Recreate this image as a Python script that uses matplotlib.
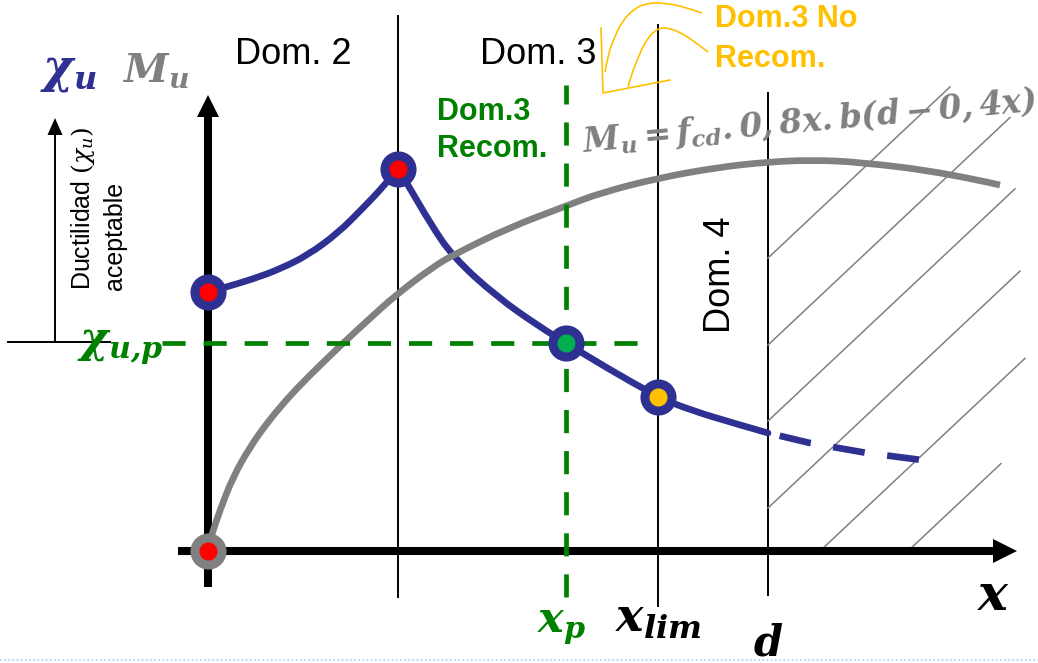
import matplotlib
matplotlib.use('Agg')
import matplotlib.pyplot as plt
from matplotlib.path import Path
from matplotlib.patches import PathPatch

plt.rcParams['font.family'] = ['Liberation Sans', 'DejaVu Sans']
plt.rcParams['mathtext.fontset'] = 'dejavuserif'

# ---------------- data (diagram units, origin at axes crossing) ----------------
# Mu curve (grey)
mu_x = [0, 2, 12, 25, 42, 59, 79, 99, 132, 159, 189, 225, 245, 300, 358, 392, 450, 512, 560, 602, 652, 739, 792]
mu_y = [0, 11, 41, 74, 104, 128, 152, 173, 205, 230, 257, 284, 296, 323, 345, 358, 373, 384, 389, 391, 389, 378, 366]
# chi_u curve (blue), rising part (domain 2)
chi_up_x = [0, 15, 45, 72, 100, 130, 155, 175, 190]
chi_up_y = [259, 263, 272, 282, 296, 318, 343, 364, 382]
# chi_u curve, falling part (domain 3)
chi_dn_x = [190, 199, 222, 245, 289, 332, 358, 399, 450, 482, 532, 560]
chi_dn_y = [382, 368, 328, 294, 254, 224, 208, 183, 154, 141, 126, 118]
# chi_u curve, dashed part (domain 4)
chi_dash_x = [560, 602, 659, 714]
chi_dash_y = [118, 108, 98, 91]

# key abscissas
x_dom2 = 190      # limit dominio 2 / 3
x_p = 358         # x_p
x_lim = 450       # x_lim
d_val = 560       # d
chi_up = 208      # chi_u,p

# highlighted points
red_pts_x = [0, 190]
red_pts_y = [259, 382]
green_pt = (358, 208)
orange_pt = (450, 154)
origin_pt = (0, 0)

# hatch lines of domain 4 (start point, end x)
hatch_start = [(560, 293), (560, 206), (560, 130), (560, 43), (612, 0), (700, 0)]
hatch_end_x = [742, 802, 807, 812, 817, 793]
hatch_slope = 0.94

# orange bracket for "Dom.3 No Recom."
br_line_x = [393, 395, 462]
br_line_y = [523, 458, 471]
br_outer_x = [494, 477, 457, 440, 427, 415, 406, 400, 397]
br_outer_y = [538, 544, 548, 548, 543, 531, 513, 496, 479]
br_inner_x = [500, 487, 472, 457, 447, 437, 430, 424, 420]
br_inner_y = [499, 509, 519, 524, 521, 509, 493, 478, 464]

# ---------------- colours ----------------
BLUE = '#2E3192'
GREY = '#808080'
GREEN = '#008000'
GREEN_FILL = '#00B050'
ORANGE = '#FFC000'
RED = '#FF0000'


def smooth_path(xs, ys):
    """Quadratic B-spline style path using the read points as control points."""
    verts = [(xs[0], ys[0])]
    codes = [Path.MOVETO]
    n = len(xs)
    for i in range(1, n - 1):
        if i < n - 2:
            end = ((xs[i] + xs[i + 1]) / 2, (ys[i] + ys[i + 1]) / 2)
        else:
            end = (xs[n - 1], ys[n - 1])
        verts += [(xs[i], ys[i]), end]
        codes += [Path.CURVE3, Path.CURVE3]
    return Path(verts, codes)


def add_curve(ax, xs, ys, **kw):
    patch = PathPatch(smooth_path(xs, ys), fill=False, **kw)
    ax.add_patch(patch)


fig = plt.figure(figsize=(10.38, 6.63), dpi=100)
ax = fig.add_axes([0, 0, 1, 1])
ax.set_xlim(-208, 830)
ax.set_ylim(-112, 551)
ax.axis('off')

# thin vertical domain lines
ax.plot([x_dom2, x_dom2], [-46, 535], color='black', lw=1.4, zorder=1)
ax.plot([x_lim, x_lim], [-55, 526], color='black', lw=1.4, zorder=1)
ax.plot([d_val, d_val], [-44, 458], color='black', lw=1.4, zorder=1)

# hatch lines
for (sx, sy), ex in zip(hatch_start, hatch_end_x):
    ax.plot([sx, ex], [sy, sy + hatch_slope * (ex - sx)], color=GREY, lw=1.1, zorder=1)

# main axes with arrow heads
ax.plot([-30, 785], [0, 0], color='black', lw=5.8, solid_capstyle='butt', zorder=2)
ax.fill([785, 809, 785], [-12, 0, 12], color='black', lw=0, zorder=2)
ax.plot([0, 0], [-36, 434], color='black', lw=5.8, solid_capstyle='butt', zorder=2)
ax.fill([-11, 0, 11], [434, 456, 434], color='black', lw=0, zorder=2)

# small "ductilidad" arrow at the left
ax.plot([-200, -98], [chi_up + 1, chi_up + 1], color='black', lw=1.4, zorder=2)
ax.plot([-153, -153], [chi_up + 1, 416], color='black', lw=1.4, zorder=2)
ax.fill([-160.5, -153, -145.5], [416, 433, 416], color='black', lw=0, zorder=2)

# chi_u curve
add_curve(ax, chi_up_x, chi_up_y, edgecolor=BLUE, lw=4.8, joinstyle='round', capstyle='round', zorder=4)
add_curve(ax, chi_dn_x, chi_dn_y, edgecolor=BLUE, lw=4.8, joinstyle='round', capstyle='round', zorder=4)
ax.plot(chi_dash_x, chi_dash_y, color=BLUE, lw=4.8, linestyle=(6.4, (4.8, 3.4)),
        dash_capstyle='butt', zorder=4)

# Mu curve
add_curve(ax, mu_x, mu_y, edgecolor=GREY, lw=4.8, joinstyle='round', capstyle='butt', zorder=5)

# green dashed guides
ax.plot([x_p, x_p], [-46, 466], color=GREEN, lw=3.4, linestyle=(0, (4.9, 3.8)),
        dash_capstyle='butt', zorder=6)
ax.plot([-46, 440], [chi_up, chi_up], color=GREEN, lw=3.4, linestyle=(0, (4.9, 3.8)),
        dash_capstyle='butt', zorder=6)

# markers
mk = dict(markersize=19.5, markeredgewidth=6.5, linestyle='none', zorder=7)
ax.plot(red_pts_x, red_pts_y, 'o', markerfacecolor=RED, markeredgecolor=BLUE, **mk)
ax.plot([green_pt[0]], [green_pt[1]], 'o', markerfacecolor=GREEN_FILL, markeredgecolor=BLUE, **mk)
ax.plot([orange_pt[0]], [orange_pt[1]], 'o', markerfacecolor=ORANGE, markeredgecolor=BLUE, **mk)
ax.plot([origin_pt[0]], [origin_pt[1]], 'o', markerfacecolor=RED, markeredgecolor=GREY, **mk)

# orange bracket
ax.plot(br_line_x, br_line_y, color=ORANGE, lw=1.2, zorder=3)
add_curve(ax, br_outer_x, br_outer_y, edgecolor=ORANGE, lw=1.2, zorder=3)
add_curve(ax, br_inner_x, br_inner_y, edgecolor=ORANGE, lw=1.2, zorder=3)

# ---------------- texts ----------------
ax.text(-168, 469, r'$\mathbfit{\chi_u}$', color=BLUE, fontsize=33, ha='left', va='baseline')
ax.text(-86, 469, r'$\mathbfit{M_u}$', color=GREY, fontsize=29, ha='left', va='baseline')

ax.text(27, 487, 'Dom. 2', fontsize=26, ha='left', va='baseline')
ax.text(272, 487, 'Dom. 3', fontsize=26, ha='left', va='baseline')
ax.text(512, 276, 'Dom. 4', fontsize=26, rotation=90, ha='center', va='center')

ax.text(229, 431, 'Dom.3', color=GREEN, fontsize=22, fontweight='bold', ha='left', va='baseline')
ax.text(229, 394, 'Recom.', color=GREEN, fontsize=22, fontweight='bold', ha='left', va='baseline')

ax.text(507, 524, 'Dom.3 No', color=ORANGE, fontsize=22, fontweight='bold', ha='left', va='baseline')
ax.text(507, 484, 'Recom.', color=ORANGE, fontsize=22, fontweight='bold', ha='left', va='baseline')

ax.text(375, 399, r'$\mathbfit{M_u = f_{cd}. 0,8x.b(d-0,4x)}$', color=GREY, fontsize=23.5,
        rotation=5.2, rotation_mode='anchor', ha='left', va='baseline', zorder=3)

ax.text(-118, 261, r'Ductilidad $(\chi_u)$', fontsize=18, rotation=90,
        rotation_mode='anchor', ha='left', va='baseline')
ax.text(-86, 261, 'aceptable', fontsize=18, rotation=90,
        rotation_mode='anchor', ha='left', va='baseline')

ax.text(-131, 199, r'$\mathbfit{\chi_{u{,}p}}$', color=GREEN, fontsize=31, ha='left', va='baseline')
ax.text(329, -81, r'$\mathbfit{x_p}$', color=GREEN, fontsize=31, ha='left', va='baseline')
ax.text(407, -81, r'$\mathbfit{x_{lim}}$', color='black', fontsize=33, ha='left', va='baseline')
ax.text(545, -104, r'$\mathbfit{d}$', color='black', fontsize=30, ha='left', va='baseline')
ax.text(769, -59, r'$\mathbfit{x}$', color='black', fontsize=36, ha='left', va='baseline')

# light dotted slide border at the bottom
ax.plot([-208, 830], [-109, -109], color='#9ad6e6', lw=1.2, linestyle=(0, (1, 1.5)), zorder=1)

fig.savefig('out.png', dpi=100)
